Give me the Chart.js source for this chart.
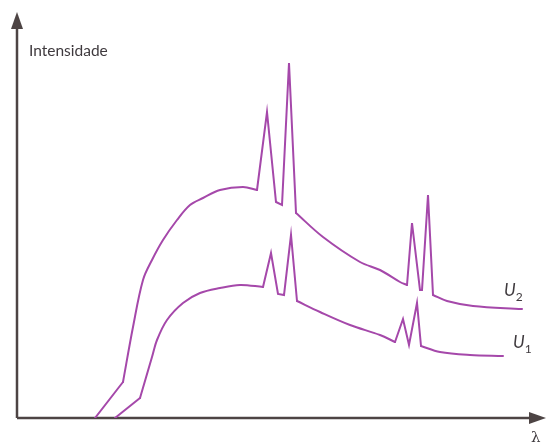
<!DOCTYPE html>
<html>
<head>
<meta charset="utf-8">
<script src="https://cdn.jsdelivr.net/npm/chart.js@4/dist/chart.umd.min.js"></script>
<style>
  html, body { margin: 0; padding: 0; background: #ffffff; }
  #wrap { width: 546px; height: 444px; position: relative; }
</style>
</head>
<body>
<div id="wrap"><canvas id="c"></canvas></div>
<script>
// Wavelength (arbitrary units) and intensity (arbitrary units) for the two tube voltages.
const lambdaU2 = [78, 106, 116, 126, 135, 146, 160, 173, 186, 203, 226, 240, 250, 259, 265, 272, 279, 306, 343, 363, 383, 390, 395, 403, 405, 411, 416, 430, 456, 505];
const intensU2 = [0, 36, 91, 138, 158, 178, 198, 213, 220, 228, 231, 228, 306, 216, 213, 355, 205, 181, 156, 148, 136, 133, 195, 128, 128, 223, 123, 117, 112, 109];

const lambdaU1 = [98, 123, 135, 140, 150, 166, 183, 203, 223, 246, 254, 261, 267, 274, 280, 303, 333, 363, 378, 386, 392, 400, 404, 423, 453, 486];
const intensU1 = [0, 20, 61, 78, 98, 115, 125, 130, 133, 131, 165, 124, 123, 183, 117, 106, 93, 83, 76, 99, 73, 115, 72, 66, 63, 62];

// Index ranges of the continuous (bremsstrahlung) parts; the characteristic peaks between them stay sharp.
const smoothU2 = [[1, 11], [16, 21], [26, 29]];
const smoothU1 = [[1, 9], [14, 18], [22, 25]];

const seriesNames = ['U', 'U'];
const seriesSubs = ['2', '1'];
const axisTitleY = 'Intensidade';
const axisTitleX = 'λ';

const curveColor = '#a548aa';
const axisColor = '#4d4444';

function toPoints(xs, ys) { return xs.map((x, i) => ({ x: x, y: ys[i] })); }

// Split a curve into straight and smooth pieces that share their end points
function pieces(xs, ys, ranges) {
  const pts = toPoints(xs, ys);
  const out = [];
  let cur = 0;
  ranges.forEach(([a, b]) => {
    if (cur < a) out.push({ pts: pts.slice(cur, a + 1), smooth: false });
    out.push({ pts: pts.slice(a, b + 1), smooth: true });
    cur = b;
  });
  if (cur < pts.length - 1) out.push({ pts: pts.slice(cur), smooth: false });
  return out;
}

function makeDatasets(name, xs, ys, ranges) {
  return pieces(xs, ys, ranges).map((p, i) => ({
    label: name + '-' + i,
    data: p.pts,
    showLine: true,
    borderColor: curveColor,
    borderWidth: 2,
    pointRadius: 0,
    tension: p.smooth ? 0.35 : 0,
    borderJoinStyle: 'miter',
    borderCapStyle: 'round'
  }));
}

// Axes with arrowheads, axis titles and curve labels
const annotate = {
  id: 'annotate',
  beforeDatasetsDraw(chart) {
    const ctx = chart.ctx;
    const xs = chart.scales.x, ys = chart.scales.y;
    const x0 = xs.getPixelForValue(0), y0 = ys.getPixelForValue(0);
    ctx.save();
    ctx.strokeStyle = axisColor;
    ctx.fillStyle = axisColor;
    ctx.lineWidth = 2.5;
    ctx.beginPath();
    ctx.moveTo(x0, y0);
    ctx.lineTo(x0, 24);
    ctx.moveTo(x0, y0);
    ctx.lineTo(534, y0);
    ctx.stroke();
    // arrowheads
    ctx.beginPath();
    ctx.moveTo(x0, 12);
    ctx.lineTo(x0 - 6, 29);
    ctx.lineTo(x0 + 6, 29);
    ctx.closePath();
    ctx.fill();
    ctx.beginPath();
    ctx.moveTo(546, y0);
    ctx.lineTo(529, y0 - 6);
    ctx.lineTo(529, y0 + 6);
    ctx.closePath();
    ctx.fill();
    // titles
    ctx.fillStyle = '#3f3a3e';
    ctx.font = '15.5px Lato, "Open Sans", sans-serif';
    ctx.textBaseline = 'alphabetic';
    ctx.textAlign = 'left';
    ctx.fillText(axisTitleY, 29, 56);
    ctx.font = '15px "DejaVu Serif", serif';
    ctx.fillText(axisTitleX, 531, 442);
    // curve labels near the end of each curve
    const ends = [
      { x: lambdaU2[lambdaU2.length - 1], y: intensU2[intensU2.length - 1], dx: -18, dy: -13 },
      { x: lambdaU1[lambdaU1.length - 1], y: intensU1[intensU1.length - 1], dx: 10, dy: -8 }
    ];
    ends.forEach((e, i) => {
      const px = xs.getPixelForValue(e.x) + e.dx;
      const py = ys.getPixelForValue(e.y) + e.dy;
      ctx.font = 'italic 17px Lato, "Open Sans", sans-serif';
      ctx.fillText(seriesNames[i], px, py);
      const w = ctx.measureText(seriesNames[i]).width;
      ctx.font = '12px Lato, "Open Sans", sans-serif';
      ctx.fillText(seriesSubs[i], px + w, py + 5);
    });
    ctx.restore();
  }
};

new Chart(document.getElementById('c'), {
  type: 'scatter',
  data: {
    datasets: [
      ...makeDatasets('U2', lambdaU2, intensU2, smoothU2),
      ...makeDatasets('U1', lambdaU1, intensU1, smoothU1)
    ]
  },
  options: {
    responsive: true,
    maintainAspectRatio: false,
    animation: false,
    layout: { padding: { left: 17, right: 0, top: 0, bottom: 26 } },
    plugins: { legend: { display: false }, tooltip: { enabled: false } },
    scales: {
      x: { type: 'linear', min: 0, max: 529, display: false },
      y: { type: 'linear', min: 0, max: 418, display: false }
    }
  },
  plugins: [annotate]
});
</script>
</body>
</html>
